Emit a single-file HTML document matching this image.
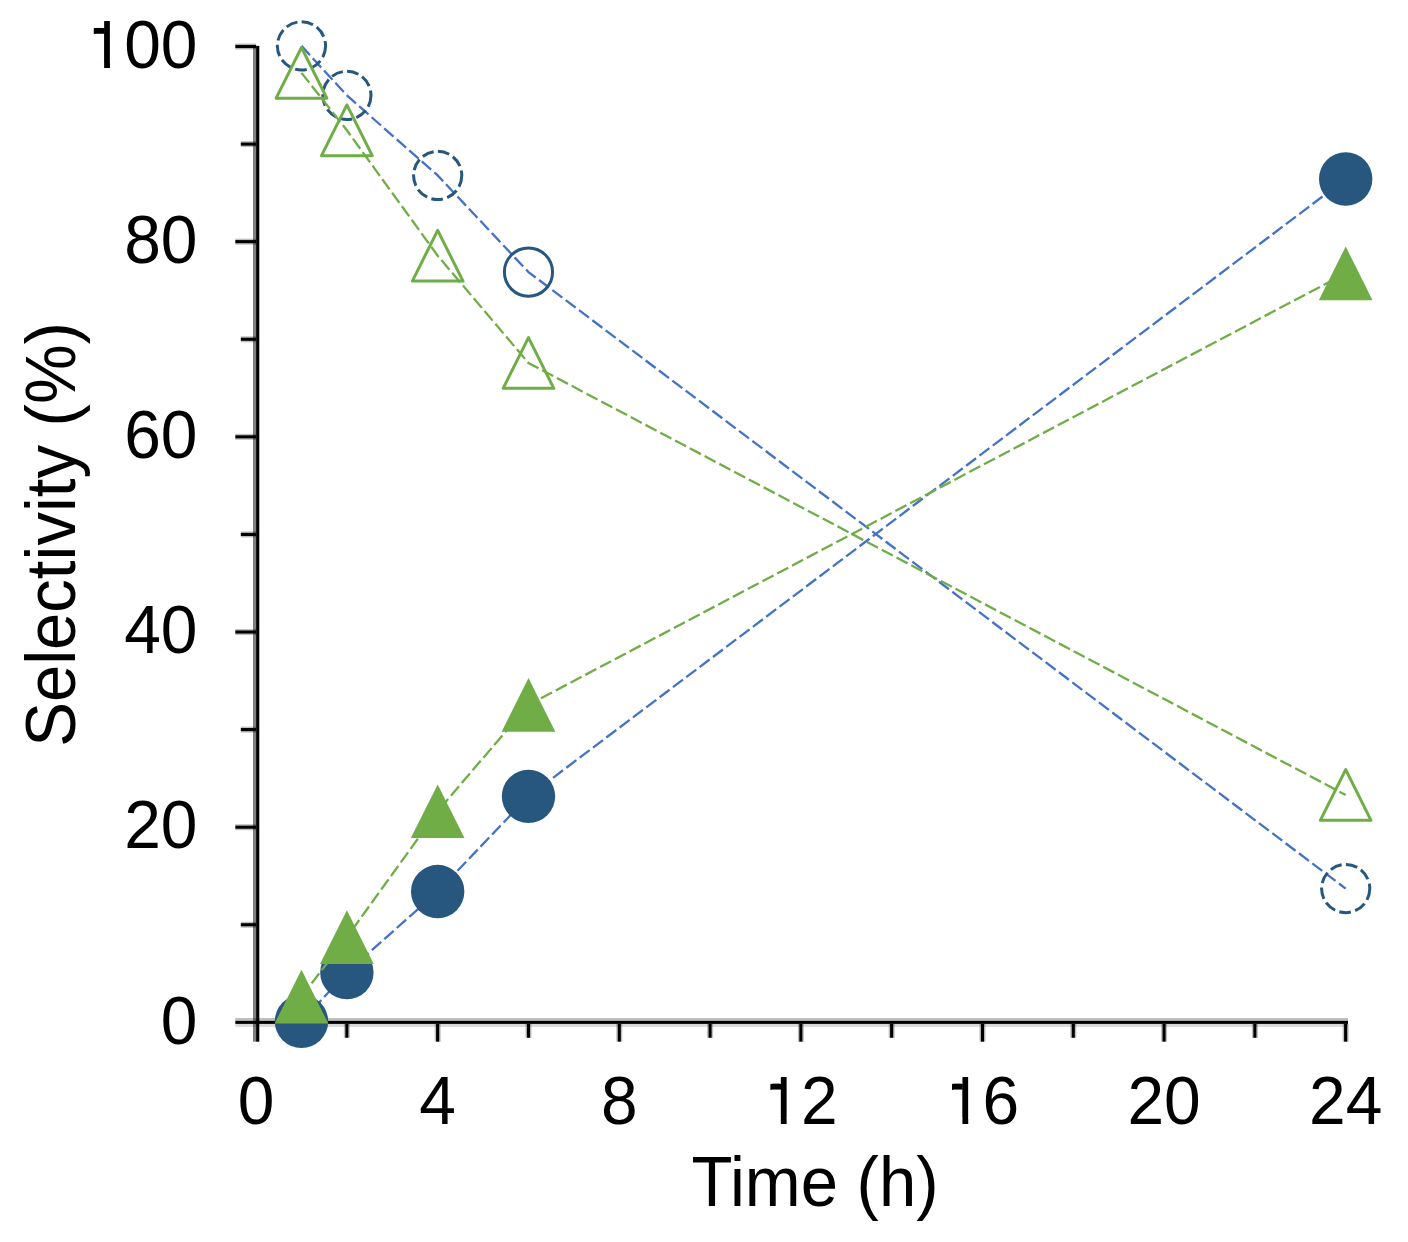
<!DOCTYPE html>
<html><head><meta charset="utf-8"><title>Selectivity vs Time</title><style>html,body{margin:0;padding:0;background:#fff;overflow:hidden;}svg{display:block;filter:blur(0.5px);}text{font-family:"Liberation Sans",sans-serif;fill:#000;}</style></head><body>
<svg width="1408" height="1242" viewBox="0 0 1408 1242">
<rect width="1408" height="1242" fill="#fff"/>
<rect x="253.0" y="45.9" width="3.1" height="995.8" fill="#000" fill-opacity="0.5"/>
<rect x="256.1" y="45.9" width="3.2" height="995.8" fill="#000"/>
<rect x="235.3" y="1018.0" width="1112.7" height="2.8" fill="#000" fill-opacity="0.25"/>
<rect x="235.3" y="1020.8" width="1112.7" height="3.1" fill="#000"/>
<rect x="235.3" y="1023.9" width="1112.7" height="3.0" fill="#000" fill-opacity="0.15"/>
<rect x="240.8" y="923.16" width="15.30" height="3.2" fill="#000"/>
<rect x="240.8" y="921.76" width="15.30" height="1.4" fill="#000" fill-opacity="0.25"/>
<rect x="240.8" y="926.37" width="15.30" height="1.4" fill="#000" fill-opacity="0.25"/>
<rect x="235.3" y="825.58" width="20.80" height="3.2" fill="#000"/>
<rect x="235.3" y="824.18" width="20.80" height="1.4" fill="#000" fill-opacity="0.25"/>
<rect x="235.3" y="828.78" width="20.80" height="1.4" fill="#000" fill-opacity="0.25"/>
<rect x="240.8" y="728.00" width="15.30" height="3.2" fill="#000"/>
<rect x="240.8" y="726.60" width="15.30" height="1.4" fill="#000" fill-opacity="0.25"/>
<rect x="240.8" y="731.20" width="15.30" height="1.4" fill="#000" fill-opacity="0.25"/>
<rect x="235.3" y="630.41" width="20.80" height="3.2" fill="#000"/>
<rect x="235.3" y="629.01" width="20.80" height="1.4" fill="#000" fill-opacity="0.25"/>
<rect x="235.3" y="633.61" width="20.80" height="1.4" fill="#000" fill-opacity="0.25"/>
<rect x="240.8" y="532.82" width="15.30" height="3.2" fill="#000"/>
<rect x="240.8" y="531.42" width="15.30" height="1.4" fill="#000" fill-opacity="0.25"/>
<rect x="240.8" y="536.02" width="15.30" height="1.4" fill="#000" fill-opacity="0.25"/>
<rect x="235.3" y="435.24" width="20.80" height="3.2" fill="#000"/>
<rect x="235.3" y="433.84" width="20.80" height="1.4" fill="#000" fill-opacity="0.25"/>
<rect x="235.3" y="438.44" width="20.80" height="1.4" fill="#000" fill-opacity="0.25"/>
<rect x="240.8" y="337.65" width="15.30" height="3.2" fill="#000"/>
<rect x="240.8" y="336.25" width="15.30" height="1.4" fill="#000" fill-opacity="0.25"/>
<rect x="240.8" y="340.86" width="15.30" height="1.4" fill="#000" fill-opacity="0.25"/>
<rect x="235.3" y="240.07" width="20.80" height="3.2" fill="#000"/>
<rect x="235.3" y="238.67" width="20.80" height="1.4" fill="#000" fill-opacity="0.25"/>
<rect x="235.3" y="243.27" width="20.80" height="1.4" fill="#000" fill-opacity="0.25"/>
<rect x="240.8" y="142.49" width="15.30" height="3.2" fill="#000"/>
<rect x="240.8" y="141.09" width="15.30" height="1.4" fill="#000" fill-opacity="0.25"/>
<rect x="240.8" y="145.69" width="15.30" height="1.4" fill="#000" fill-opacity="0.25"/>
<rect x="235.3" y="44.90" width="20.80" height="3.2" fill="#000"/>
<rect x="235.3" y="43.50" width="20.80" height="1.4" fill="#000" fill-opacity="0.25"/>
<rect x="235.3" y="48.10" width="20.80" height="1.4" fill="#000" fill-opacity="0.25"/>
<rect x="345.28" y="1023.9" width="3.2" height="13.90" fill="#000"/>
<rect x="343.88" y="1023.9" width="1.4" height="13.90" fill="#000" fill-opacity="0.25"/>
<rect x="348.48" y="1023.9" width="1.4" height="13.90" fill="#000" fill-opacity="0.25"/>
<rect x="436.08" y="1023.9" width="3.2" height="17.80" fill="#000"/>
<rect x="434.68" y="1023.9" width="1.4" height="17.80" fill="#000" fill-opacity="0.25"/>
<rect x="439.28" y="1023.9" width="1.4" height="17.80" fill="#000" fill-opacity="0.25"/>
<rect x="526.88" y="1023.9" width="3.2" height="13.90" fill="#000"/>
<rect x="525.48" y="1023.9" width="1.4" height="13.90" fill="#000" fill-opacity="0.25"/>
<rect x="530.08" y="1023.9" width="1.4" height="13.90" fill="#000" fill-opacity="0.25"/>
<rect x="617.68" y="1023.9" width="3.2" height="17.80" fill="#000"/>
<rect x="616.28" y="1023.9" width="1.4" height="17.80" fill="#000" fill-opacity="0.25"/>
<rect x="620.88" y="1023.9" width="1.4" height="17.80" fill="#000" fill-opacity="0.25"/>
<rect x="708.48" y="1023.9" width="3.2" height="13.90" fill="#000"/>
<rect x="707.08" y="1023.9" width="1.4" height="13.90" fill="#000" fill-opacity="0.25"/>
<rect x="711.68" y="1023.9" width="1.4" height="13.90" fill="#000" fill-opacity="0.25"/>
<rect x="799.28" y="1023.9" width="3.2" height="17.80" fill="#000"/>
<rect x="797.88" y="1023.9" width="1.4" height="17.80" fill="#000" fill-opacity="0.25"/>
<rect x="802.48" y="1023.9" width="1.4" height="17.80" fill="#000" fill-opacity="0.25"/>
<rect x="890.08" y="1023.9" width="3.2" height="13.90" fill="#000"/>
<rect x="888.68" y="1023.9" width="1.4" height="13.90" fill="#000" fill-opacity="0.25"/>
<rect x="893.28" y="1023.9" width="1.4" height="13.90" fill="#000" fill-opacity="0.25"/>
<rect x="980.88" y="1023.9" width="3.2" height="17.80" fill="#000"/>
<rect x="979.48" y="1023.9" width="1.4" height="17.80" fill="#000" fill-opacity="0.25"/>
<rect x="984.08" y="1023.9" width="1.4" height="17.80" fill="#000" fill-opacity="0.25"/>
<rect x="1071.68" y="1023.9" width="3.2" height="13.90" fill="#000"/>
<rect x="1070.28" y="1023.9" width="1.4" height="13.90" fill="#000" fill-opacity="0.25"/>
<rect x="1074.88" y="1023.9" width="1.4" height="13.90" fill="#000" fill-opacity="0.25"/>
<rect x="1162.48" y="1023.9" width="3.2" height="17.80" fill="#000"/>
<rect x="1161.08" y="1023.9" width="1.4" height="17.80" fill="#000" fill-opacity="0.25"/>
<rect x="1165.68" y="1023.9" width="1.4" height="17.80" fill="#000" fill-opacity="0.25"/>
<rect x="1253.28" y="1023.9" width="3.2" height="13.90" fill="#000"/>
<rect x="1251.88" y="1023.9" width="1.4" height="13.90" fill="#000" fill-opacity="0.25"/>
<rect x="1256.48" y="1023.9" width="1.4" height="13.90" fill="#000" fill-opacity="0.25"/>
<rect x="1344.08" y="1023.9" width="3.2" height="17.80" fill="#000"/>
<rect x="1342.68" y="1023.9" width="1.4" height="17.80" fill="#000" fill-opacity="0.25"/>
<rect x="1347.28" y="1023.9" width="1.4" height="17.80" fill="#000" fill-opacity="0.25"/>
<polyline points="301.48,45.90 346.88,95.40 437.68,175.45 528.48,272.05 1345.68,888.55" fill="none" stroke="#4472c4" stroke-width="2.3" stroke-dasharray="12.5 4.2"/>
<circle cx="301.48" cy="45.90" r="24.1" fill="none" stroke="#27567f" stroke-width="3.0" stroke-dasharray="11.78 4.37"/>
<circle cx="346.88" cy="95.40" r="24.1" fill="none" stroke="#27567f" stroke-width="3.0" stroke-dasharray="11.78 4.37"/>
<circle cx="437.68" cy="175.45" r="24.1" fill="none" stroke="#27567f" stroke-width="3.0" stroke-dasharray="11.78 4.37"/>
<circle cx="528.48" cy="272.05" r="24.1" fill="none" stroke="#27567f" stroke-width="3.0"/>
<circle cx="1345.68" cy="888.55" r="24.1" fill="none" stroke="#27567f" stroke-width="3.0" stroke-dasharray="11.78 4.37"/>
<polyline points="301.48,72.85 346.88,130.30 437.68,255.70 528.48,363.00 1345.68,794.95" fill="none" stroke="#70ad47" stroke-width="2.3" stroke-dasharray="12.5 4.2"/>
<path d="M301.48,47.50 L326.83,98.20 L276.13,98.20 Z" fill="none" stroke="#70ad47" stroke-width="3.0" stroke-linejoin="round"/>
<path d="M346.88,104.95 L372.23,155.65 L321.53,155.65 Z" fill="none" stroke="#70ad47" stroke-width="3.0" stroke-linejoin="round"/>
<path d="M437.68,230.35 L463.03,281.05 L412.33,281.05 Z" fill="none" stroke="#70ad47" stroke-width="3.0" stroke-linejoin="round"/>
<path d="M528.48,337.65 L553.83,388.35 L503.13,388.35 Z" fill="none" stroke="#70ad47" stroke-width="3.0" stroke-linejoin="round"/>
<path d="M1345.68,769.60 L1371.03,820.30 L1320.33,820.30 Z" fill="none" stroke="#70ad47" stroke-width="3.0" stroke-linejoin="round"/>
<polyline points="301.48,1021.40 346.88,972.50 437.68,891.55 528.48,796.35 1345.68,179.00" fill="none" stroke="#4472c4" stroke-width="2.3" stroke-dasharray="12.5 4.2"/>
<circle cx="301.48" cy="1021.40" r="26.7" fill="#27567f"/>
<circle cx="346.88" cy="972.50" r="26.7" fill="#27567f"/>
<circle cx="437.68" cy="891.55" r="26.7" fill="#27567f"/>
<circle cx="528.48" cy="796.35" r="26.7" fill="#27567f"/>
<circle cx="1345.68" cy="179.00" r="26.7" fill="#27567f"/>
<polyline points="301.48,996.70 346.88,937.20 437.68,811.25 528.48,704.85 1345.68,273.30" fill="none" stroke="#70ad47" stroke-width="2.3" stroke-dasharray="12.5 4.2"/>
<path d="M301.48,969.85 L328.33,1023.55 L274.63,1023.55 Z" fill="#70ad47"/>
<path d="M346.88,910.35 L373.73,964.05 L320.03,964.05 Z" fill="#70ad47"/>
<path d="M437.68,784.40 L464.53,838.10 L410.83,838.10 Z" fill="#70ad47"/>
<path d="M528.48,678.00 L555.33,731.70 L501.63,731.70 Z" fill="#70ad47"/>
<path d="M1345.68,246.45 L1372.53,300.15 L1318.83,300.15 Z" fill="#70ad47"/>
<text transform="translate(197.47,1043.65) scale(0.955,1)" font-size="69" text-anchor="end">0</text>
<text transform="translate(197.47,848.48) scale(0.955,1)" font-size="69" text-anchor="end">20</text>
<text transform="translate(197.47,653.31) scale(0.955,1)" font-size="69" text-anchor="end">40</text>
<text transform="translate(197.47,458.14) scale(0.955,1)" font-size="69" text-anchor="end">60</text>
<text transform="translate(197.47,262.97) scale(0.955,1)" font-size="69" text-anchor="end">80</text>
<text transform="translate(197.47,67.80) scale(0.955,1)" font-size="69" text-anchor="end">100</text>
<text transform="translate(256.08,1123.6) scale(0.955,1)" font-size="69" text-anchor="middle">0</text>
<text transform="translate(437.68,1123.6) scale(0.955,1)" font-size="69" text-anchor="middle">4</text>
<text transform="translate(619.28,1123.6) scale(0.955,1)" font-size="69" text-anchor="middle">8</text>
<text transform="translate(800.88,1123.6) scale(0.955,1)" font-size="69" text-anchor="middle">12</text>
<text transform="translate(982.48,1123.6) scale(0.955,1)" font-size="69" text-anchor="middle">16</text>
<text transform="translate(1164.08,1123.6) scale(0.955,1)" font-size="69" text-anchor="middle">20</text>
<text transform="translate(1345.68,1123.6) scale(0.955,1)" font-size="69" text-anchor="middle">24</text>
<rect x="91.58" y="62.05" width="12.55" height="6.75" fill="#fff"/>
<rect x="109.95" y="62.05" width="12.04" height="6.75" fill="#fff"/>
<rect x="92.70" y="19.50" width="11.43" height="8.44" fill="#fff"/>
<rect x="93.90" y="28.04" width="10.53" height="5.73" fill="#000"/>
<rect x="768.26" y="1117.85" width="12.55" height="6.75" fill="#fff"/>
<rect x="786.63" y="1117.85" width="12.04" height="6.75" fill="#fff"/>
<rect x="769.38" y="1075.30" width="11.43" height="8.44" fill="#fff"/>
<rect x="770.58" y="1083.84" width="10.53" height="5.73" fill="#000"/>
<rect x="949.86" y="1117.85" width="12.55" height="6.75" fill="#fff"/>
<rect x="968.23" y="1117.85" width="12.04" height="6.75" fill="#fff"/>
<rect x="950.98" y="1075.30" width="11.43" height="8.44" fill="#fff"/>
<rect x="952.18" y="1083.84" width="10.53" height="5.73" fill="#000"/>
<text transform="translate(691.49,1206.2) scale(0.958,1)" font-size="70">Time (h)</text>
<text transform="translate(75.2,534.5) rotate(-90) scale(0.958,1)" font-size="70" text-anchor="middle">Selectivity (%)</text>
</svg>
</body></html>
